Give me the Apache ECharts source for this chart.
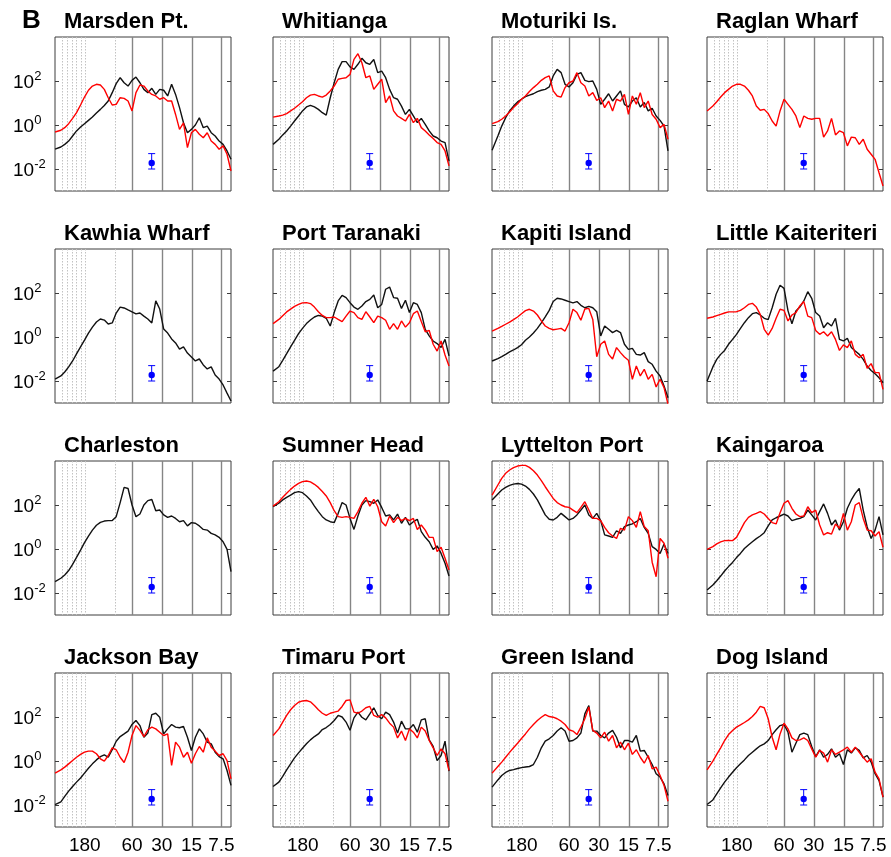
<!DOCTYPE html>
<html>
<head>
<meta charset="utf-8">
<script src="https://cdn.jsdelivr.net/npm/echarts@6/dist/echarts.min.js"></script>
<style>
  html, body { margin: 0; padding: 0; background: #fff; }
  #chart { width: 891px; height: 857px; }
</style>
</head>
<body>
<div id="chart"></div>
<script>
// Frequency samples in cycles per hour, shared by every spectrum (6 h to 6 min periods)
const freq = [0.167, 0.191, 0.209, 0.229, 0.251, 0.275, 0.302, 0.331, 0.363, 0.398,
  0.437, 0.479, 0.525, 0.575, 0.631, 0.692, 0.759, 0.832, 0.912, 1.0,
  1.096, 1.202, 1.318, 1.445, 1.585, 1.738, 1.905, 2.089, 2.291, 2.512,
  2.754, 3.02, 3.311, 3.631, 3.981, 4.365, 4.786, 5.248, 5.754, 6.31,
  6.918, 7.586, 8.318, 9.12, 10.0];

// Periods (minutes) labelled on the bottom axis
const tickPeriods = [180, 60, 30, 15, 7.5];
const tickLabels = ['180', '60', '30', '15', '7.5'];
// Periods (minutes) of the vertical reference lines
const solidPeriods = [60, 30, 15, 7.5];
const dottedPeriods = [305, 272, 244, 219, 198, 180, 90];
// Labelled powers on the energy axis
const powerTicks = [0.01, 1, 100];

// Confidence bar: frequency, centre, lower and upper bound
const confFreq = 1.58;
const confMid = 0.0186;
const confLow = 0.01;
const confHigh = 0.05;

// log10 spectral energy for each station (black and red curves)
const marsdenBlack = [-1.1,-1.0,-0.88,-0.73,-0.5,-0.27,-0.09,0.06,0.21,0.36,0.55,0.71,0.89,1.09,1.47,1.88,2.15,1.92,1.77,2.03,2.18,1.92,1.62,1.47,1.67,1.39,1.62,1.58,1.32,1.85,1.39,0.79,0.1,-0.35,-0.2,0.0,0.33,-0.12,-0.05,-0.35,-0.5,-0.73,-0.88,-1.18,-1.56];
const marsdenRed = [-0.32,-0.24,-0.12,0.06,0.3,0.56,0.91,1.27,1.58,1.77,1.85,1.82,1.62,1.24,0.91,0.94,1.24,1.21,1.09,0.64,1.47,1.82,1.77,1.55,1.39,1.32,1.17,1.24,1.09,1.09,0.48,-0.2,0.1,-1.03,-0.35,-0.2,-0.42,-0.58,-0.35,-0.73,-0.88,-1.1,-0.95,-1.33,-2.09];

const whitiangaBlack = [-0.88,-0.65,-0.45,-0.27,-0.05,0.18,0.41,0.64,0.82,0.89,0.82,0.71,0.56,0.45,1.24,1.92,2.53,2.88,2.88,2.64,2.53,2.76,3.03,2.83,2.76,2.98,2.38,2.45,2.15,1.62,1.24,1.17,0.86,0.48,0.71,0.41,0.11,0.3,0.03,-0.27,-0.5,-0.58,-0.73,-0.8,-1.64];
const whitiangaRed = [0.36,0.41,0.45,0.52,0.64,0.76,0.91,1.06,1.24,1.36,1.39,1.32,1.27,1.36,1.55,1.77,2.08,2.12,2.15,2.3,2.98,3.24,2.83,2.15,2.23,1.62,1.85,2.08,1.02,1.32,0.64,0.41,0.3,0.18,0.48,0.11,0.3,-0.12,-0.27,-0.45,-0.61,-0.8,-0.88,-1.18,-1.86];

const moturikiBlack = [-1.15,-0.5,-0.05,0.33,0.64,0.86,1.05,1.17,1.29,1.36,1.42,1.52,1.58,1.62,1.73,2.23,2.53,2.38,1.85,1.73,1.92,2.3,2.38,2.03,1.97,2.0,1.62,0.94,1.17,1.42,1.09,1.32,1.55,0.94,0.82,1.09,1.24,0.82,1.02,0.64,0.76,0.41,0.21,-0.05,-1.18];
const moturikiRed = [0.06,0.15,0.26,0.41,0.59,0.79,0.97,1.17,1.32,1.52,1.7,1.85,2.03,2.15,2.23,1.55,1.32,1.27,1.7,1.92,2.0,2.38,1.92,1.77,1.32,1.47,1.12,1.24,0.79,1.09,0.64,1.17,1.09,1.39,0.48,1.32,0.94,1.47,0.79,1.09,0.48,0.26,-0.12,0.03,-0.65];

const raglanRed = [0.64,0.86,1.06,1.27,1.47,1.62,1.77,1.85,1.85,1.77,1.58,1.32,0.86,0.67,0.71,0.52,0.18,-0.05,0.64,1.17,0.94,0.71,0.41,-0.12,0.41,0.3,0.26,0.3,0.3,-0.55,-0.27,0.3,-0.45,-0.27,-0.35,-0.95,-0.55,-0.58,-0.88,-0.65,-1.1,-1.33,-1.56,-2.17,-2.77];

const kawhiaBlack = [-1.91,-1.77,-1.59,-1.36,-1.09,-0.77,-0.45,-0.14,0.18,0.45,0.68,0.82,0.77,0.59,0.64,1.09,1.36,1.32,1.23,1.14,1.05,1.09,0.95,0.82,0.64,1.64,1.27,0.36,0.18,-0.09,-0.27,-0.55,-0.45,-0.73,-0.91,-1.09,-1.0,-1.27,-1.45,-1.36,-1.73,-1.91,-2.18,-2.55,-2.91];

const taranakiBlack = [-1.55,-1.35,-1.06,-0.76,-0.45,-0.15,0.15,0.39,0.61,0.77,0.91,0.98,0.95,0.85,0.5,1.11,1.64,1.89,1.79,1.56,1.36,1.26,1.41,1.61,1.71,1.91,1.33,1.48,2.17,2.27,1.79,1.76,1.3,1.67,1.11,1.56,1.48,1.11,0.35,0.05,-0.18,-0.3,-0.48,-0.11,-0.86];
const taranakiRed = [0.61,0.8,0.97,1.14,1.27,1.39,1.48,1.55,1.56,1.52,1.36,1.15,0.98,0.88,0.88,0.91,0.8,0.7,0.95,1.18,1.11,0.88,0.8,1.15,0.91,0.65,0.95,0.88,0.76,0.35,0.61,0.35,0.73,0.45,0.65,1.06,1.18,0.7,0.24,0.3,-0.33,-0.64,-0.18,-0.82,-1.32];

const kapitiBlack = [-1.09,-0.98,-0.89,-0.79,-0.68,-0.59,-0.48,-0.35,-0.15,0.0,0.18,0.39,0.64,0.91,1.21,1.61,1.76,1.73,1.67,1.61,1.55,1.61,1.44,1.33,1.39,1.33,1.15,0.05,0.5,0.35,0.2,0.3,0.2,-0.33,-0.56,-0.52,-0.79,-0.82,-0.71,-1.12,-1.24,-1.55,-1.77,-2.23,-2.76];
const kapitiRed = [0.27,0.39,0.48,0.58,0.68,0.79,0.91,1.06,1.2,1.26,1.18,1.0,0.73,0.5,0.39,0.33,0.36,0.39,0.27,0.65,1.26,1.11,0.76,1.27,1.3,0.8,-0.9,-0.33,-0.18,-0.79,-1.0,-0.48,-0.71,-0.91,-1.06,-1.92,-1.32,-1.77,-1.47,-1.92,-1.7,-2.27,-1.92,-2.3,-3.06];

const kaiteriteriBlack = [-2.0,-1.36,-1.02,-0.79,-0.61,-0.33,-0.11,0.12,0.39,0.65,0.88,1.06,1.11,1.0,0.85,0.79,1.33,1.94,2.35,2.21,1.2,0.6,1.18,1.36,1.64,2.06,1.76,1.11,0.95,0.42,0.65,0.5,0.85,-0.11,-0.18,-0.06,-0.48,-0.64,-0.79,-1.02,-1.32,-1.52,-1.67,-1.85,-2.08];
const kaiteriteriRed = [0.85,0.91,0.97,1.03,1.09,1.14,1.14,1.15,1.21,1.33,1.48,1.53,1.36,1.03,0.35,0.09,0.39,0.85,1.26,1.21,0.73,1.0,1.11,1.41,1.61,0.95,0.88,0.3,0.12,0.24,0.05,0.24,-0.11,-0.61,-0.36,-0.48,-0.18,-0.79,-0.94,-0.79,-1.42,-1.21,-1.62,-1.62,-2.38];

const charlestonBlack = [-1.48,-1.33,-1.18,-0.98,-0.7,-0.38,-0.05,0.29,0.59,0.86,1.08,1.21,1.27,1.29,1.29,1.47,2.11,2.8,2.75,2.0,1.47,1.59,2.0,2.2,2.25,1.74,1.77,1.55,1.44,1.5,1.39,1.24,1.29,1.05,1.2,1.17,1.05,0.89,0.86,0.71,0.64,0.53,0.33,-0.02,-1.03];

const sumnerBlack = [1.92,2.08,2.23,2.35,2.45,2.56,2.61,2.56,2.41,2.23,1.95,1.7,1.47,1.32,1.24,1.2,1.62,2.11,2.0,1.39,0.89,1.5,2.0,2.2,2.15,2.08,2.23,1.89,1.5,1.55,1.32,1.59,1.17,1.44,1.09,1.24,1.35,0.79,0.53,0.33,-0.02,0.14,-0.2,-0.65,-1.23];
const sumnerRed = [1.95,2.15,2.35,2.53,2.71,2.86,2.98,3.06,3.09,3.05,2.94,2.8,2.61,2.41,2.11,1.74,1.47,1.44,1.47,1.44,1.39,1.7,2.08,2.35,1.95,2.26,1.92,1.24,1.05,1.5,1.2,1.44,1.29,1.39,1.29,1.39,0.89,1.09,0.86,0.53,0.53,-0.12,0.08,-0.42,-0.95];

const lytteltonBlack = [2.23,2.5,2.68,2.8,2.89,2.95,2.98,2.95,2.86,2.71,2.5,2.23,1.89,1.55,1.35,1.32,1.44,1.62,1.47,1.32,1.39,1.55,1.77,2.0,1.55,1.39,1.62,1.29,0.64,0.59,0.53,0.83,0.71,1.02,1.09,1.14,1.24,1.39,0.98,0.71,0.11,-0.02,-0.2,0.23,-0.2];
const lytteltonRed = [2.45,2.91,3.21,3.44,3.59,3.7,3.77,3.8,3.8,3.71,3.56,3.36,3.11,2.83,2.56,2.3,2.11,2.0,1.92,1.89,1.77,1.65,1.89,2.15,1.77,1.39,1.39,1.29,0.98,0.74,0.59,0.48,0.94,0.86,1.47,1.29,0.98,1.7,1.02,0.83,-0.6,-1.26,0.48,0.26,-0.42];

const kaingaroaBlack = [-1.86,-1.64,-1.44,-1.23,-1.0,-0.8,-0.61,-0.39,-0.2,0.02,0.18,0.33,0.47,0.59,0.74,1.05,1.32,1.42,1.5,1.59,1.5,1.29,1.35,1.39,1.47,1.77,1.55,1.32,1.7,2.05,1.62,1.09,1.32,0.86,1.24,1.85,2.23,2.53,2.75,1.77,1.0,0.48,0.86,1.47,0.64];
const kaingaroaRed = [-0.02,0.11,0.23,0.32,0.38,0.39,0.38,0.53,0.86,1.2,1.44,1.55,1.62,1.7,1.59,1.39,1.2,1.14,1.65,2.08,2.2,1.85,1.59,1.47,1.5,1.92,1.65,1.77,1.09,0.64,0.74,0.68,1.14,0.94,1.62,0.86,1.24,2.0,2.11,1.39,0.86,0.83,0.59,0.79,0.08];

const jacksonBlack = [-1.98,-1.86,-1.61,-1.37,-1.16,-0.96,-0.77,-0.55,-0.33,-0.13,0.05,0.2,0.28,0.17,0.51,0.9,1.11,1.23,1.36,1.66,1.84,1.61,1.08,1.27,2.11,2.17,1.99,1.23,1.46,1.66,1.54,1.51,1.57,1.08,0.48,1.08,1.46,1.23,0.86,0.78,0.4,0.2,0.1,-0.43,-1.11];
const jacksonRed = [-0.55,-0.4,-0.28,-0.13,0.02,0.17,0.3,0.4,0.45,0.45,0.33,0.1,-0.01,0.25,0.6,0.51,0.17,-0.07,0.4,1.16,1.61,1.39,1.11,1.42,1.54,1.46,1.31,1.16,1.23,-0.2,0.86,0.63,0.17,0.4,-0.1,0.33,0.66,0.4,1.05,0.63,0.45,0.25,0.33,0.02,-0.81];

const timaruBlack = [-1.16,-0.96,-0.7,-0.4,-0.13,0.14,0.37,0.58,0.78,0.96,1.11,1.23,1.43,1.52,1.66,1.84,2.07,2.0,1.77,1.4,1.96,2.22,1.99,1.87,2.14,2.42,2.07,1.92,2.22,2.11,1.77,1.27,1.81,1.46,1.46,1.66,1.31,1.87,1.92,0.96,0.66,0.02,0.25,0.9,-0.46];
const timaruRed = [1.16,1.46,1.77,2.07,2.33,2.52,2.67,2.73,2.75,2.69,2.52,2.33,2.17,2.07,2.17,2.22,2.27,2.48,2.75,2.78,2.22,2.17,2.27,2.42,2.48,2.07,1.99,2.11,1.96,1.72,1.54,1.05,1.36,0.93,1.46,1.31,1.05,1.54,1.36,0.93,0.6,0.25,0.55,0.33,-0.43];

const greenBlack = [-1.19,-0.86,-0.66,-0.52,-0.43,-0.39,-0.34,-0.3,-0.27,-0.25,-0.16,0.17,0.6,0.9,1.01,1.16,1.36,1.51,1.36,0.9,0.93,1.05,1.27,2.14,2.52,1.36,1.36,1.16,1.05,1.27,1.39,1.08,0.6,0.93,0.93,0.86,1.16,0.45,0.48,0.17,-0.16,-0.58,-0.73,-1.04,-1.57];
const greenRed = [-0.55,-0.25,-0.05,0.17,0.39,0.6,0.81,1.02,1.23,1.46,1.66,1.84,1.99,2.11,2.02,1.99,1.92,1.81,1.66,1.42,1.36,1.2,1.54,1.92,2.45,1.39,1.27,1.05,1.31,0.9,1.16,0.6,0.86,0.51,0.81,0.3,0.51,0.17,-0.1,0.25,-0.36,-0.28,-0.66,-1.11,-1.83];

const dogBlack = [-1.98,-1.77,-1.49,-1.22,-0.96,-0.73,-0.51,-0.31,-0.13,0.05,0.25,0.4,0.55,0.69,0.78,0.93,1.2,1.42,1.61,1.66,1.31,0.4,0.81,1.2,1.27,1.2,0.66,0.2,0.51,0.17,0.3,0.55,0.17,0.33,-0.16,0.51,0.36,0.6,0.48,0.14,0.25,-0.05,-0.58,-0.89,-1.64];
const dogRed = [-0.4,-0.01,0.3,0.6,0.93,1.2,1.39,1.54,1.64,1.75,1.87,2.02,2.22,2.48,2.42,1.92,1.08,0.51,1.23,1.72,1.46,1.05,0.93,0.96,1.05,0.93,0.55,0.17,0.48,0.36,-0.05,0.51,0.3,0.4,0.51,0.63,0.4,0.63,0.4,0.17,-0.05,0.1,-0.51,-0.81,-1.64];

const stations = [
  { name: 'Marsden Pt.', black: marsdenBlack, red: marsdenRed },
  { name: 'Whitianga', black: whitiangaBlack, red: whitiangaRed },
  { name: 'Moturiki Is.', black: moturikiBlack, red: moturikiRed },
  { name: 'Raglan Wharf', black: null, red: raglanRed },
  { name: 'Kawhia Wharf', black: kawhiaBlack, red: null },
  { name: 'Port Taranaki', black: taranakiBlack, red: taranakiRed },
  { name: 'Kapiti Island', black: kapitiBlack, red: kapitiRed },
  { name: 'Little Kaiteriteri', black: kaiteriteriBlack, red: kaiteriteriRed },
  { name: 'Charleston', black: charlestonBlack, red: null },
  { name: 'Sumner Head', black: sumnerBlack, red: sumnerRed },
  { name: 'Lyttelton Port', black: lytteltonBlack, red: lytteltonRed },
  { name: 'Kaingaroa', black: kaingaroaBlack, red: kaingaroaRed },
  { name: 'Jackson Bay', black: jacksonBlack, red: jacksonRed },
  { name: 'Timaru Port', black: timaruBlack, red: timaruRed },
  { name: 'Green Island', black: greenBlack, red: greenRed },
  { name: 'Dog Island', black: dogBlack, red: dogRed }
];

// Panel layout (pixels)
const colLeft = [55, 273, 492, 707];
const rowTop = [37, 249, 461, 673];
const panelW = 176;
const panelH = 154;
const frameColor = '#3c3c3c';
const fontFamily = "'Liberation Sans', Arial, Helvetica, sans-serif";

function periodLabel(f) {
  let best = 0;
  tickPeriods.forEach((p, j) => {
    if (Math.abs(Math.log(60 / p / f)) < Math.abs(Math.log(60 / tickPeriods[best] / f))) best = j;
  });
  return tickLabels[best];
}

const refLines = solidPeriods.map(p => [60 / p, 1, 1]).concat(dottedPeriods.map(p => [60 / p, 1, 0]));

const grids = [], xAxes = [], yAxes = [], series = [];
const titles = [{
  text: 'B', left: 22, top: 8, padding: 0,
  textStyle: { fontSize: 26, fontWeight: 'bold', color: '#000', fontFamily }
}];

stations.forEach((st, i) => {
  const r = Math.floor(i / 4), c = i % 4;
  grids.push({
    left: colLeft[c], top: rowTop[r], width: panelW, height: panelH,
    show: true, borderColor: frameColor, borderWidth: 1, backgroundColor: 'transparent'
  });
  titles.push({
    text: st.name, left: colLeft[c] + 9, top: rowTop[r] - 26, padding: 0,
    textStyle: { fontSize: 22, fontWeight: 'bold', color: '#000', fontFamily }
  });
  xAxes.push({
    type: 'log', logBase: 10, gridIndex: i, min: 1 / 6, max: 10,
    axisLine: { show: false }, axisTick: { show: false }, splitLine: { show: false },
    axisLabel: r === 3 ? {
      show: true, customValues: tickPeriods.map(p => 60 / p), margin: 9,
      fontSize: 19, color: '#000', fontFamily, formatter: v => periodLabel(v)
    } : { show: false }
  });
  const yBase = {
    type: 'log', logBase: 10, gridIndex: i, min: 0.001, max: 10000,
    axisLine: { show: false }, splitLine: { show: false },
    axisTick: { show: true, inside: true, length: 4, customValues: powerTicks, lineStyle: { color: frameColor, width: 1 } }
  };
  yAxes.push(Object.assign({}, yBase, {
    position: 'left',
    axisLabel: c === 0 ? {
      show: true, customValues: powerTicks, align: 'left', margin: 42,
      formatter: v => '{b|10}{e|' + Math.round(Math.log10(v)) + '}',
      rich: {
        b: { fontSize: 19, color: '#000', fontFamily, padding: [4, 0, 0, 0], verticalAlign: 'bottom' },
        e: { fontSize: 13, color: '#000', fontFamily, verticalAlign: 'top' }
      }
    } : { show: false }
  }));
  yAxes.push(Object.assign({}, yBase, { position: 'right', axisLabel: { show: false } }));

  const yIdx = 2 * i;
  // vertical reference lines at fixed periods
  series.push({
    type: 'custom', xAxisIndex: i, yAxisIndex: yIdx, z: 1, silent: true,
    data: refLines, encode: { x: 0, y: 1 },
    renderItem: (params, api) => {
      const cs = params.coordSys;
      const x = Math.round(api.coord([api.value(0), 1])[0]) + 0.5;
      const major = api.value(2) === 1;
      return {
        type: 'line',
        shape: { x1: x, y1: cs.y, x2: x, y2: cs.y + cs.height },
        style: major
          ? { stroke: '#858585', lineWidth: 1.4 }
          : { stroke: '#c2c2c2', lineWidth: 1, lineDash: [1.5, 1.5] }
      };
    }
  });
  if (st.black) {
    series.push({
      type: 'line', xAxisIndex: i, yAxisIndex: yIdx, z: 3, silent: true,
      showSymbol: false, symbol: 'none',
      lineStyle: { color: '#111', width: 1.4 },
      data: freq.map((f, k) => [f, Math.pow(10, st.black[k])])
    });
  }
  if (st.red) {
    series.push({
      type: 'line', xAxisIndex: i, yAxisIndex: yIdx, z: 4, silent: true,
      showSymbol: false, symbol: 'none',
      lineStyle: { color: '#ff0000', width: 1.4 },
      data: freq.map((f, k) => [f, Math.pow(10, st.red[k])])
    });
  }
  // confidence bar
  series.push({
    type: 'custom', xAxisIndex: i, yAxisIndex: yIdx, z: 5, silent: true,
    data: [[confFreq, confMid, confLow, confHigh]], encode: { x: 0, y: [1, 2, 3] },
    renderItem: (params, api) => {
      const pm = api.coord([api.value(0), api.value(1)]);
      const pl = api.coord([api.value(0), api.value(2)]);
      const ph = api.coord([api.value(0), api.value(3)]);
      const st2 = { stroke: '#0000ff', lineWidth: 1 };
      return {
        type: 'group', children: [
          { type: 'line', shape: { x1: pl[0], y1: pl[1], x2: ph[0], y2: ph[1] }, style: st2 },
          { type: 'line', shape: { x1: pl[0] - 3.5, y1: pl[1], x2: pl[0] + 3.5, y2: pl[1] }, style: st2 },
          { type: 'line', shape: { x1: ph[0] - 3.5, y1: ph[1], x2: ph[0] + 3.5, y2: ph[1] }, style: st2 },
          { type: 'circle', shape: { cx: pm[0], cy: pm[1], r: 3.2 }, style: { fill: '#0000ff' } }
        ]
      };
    }
  });
});

const chart = echarts.init(document.getElementById('chart'), null, { renderer: 'canvas' });
chart.setOption({
  animation: false,
  backgroundColor: '#fff',
  textStyle: { fontFamily },
  title: titles,
  grid: grids,
  xAxis: xAxes,
  yAxis: yAxes,
  series: series
});
</script>
</body>
</html>
